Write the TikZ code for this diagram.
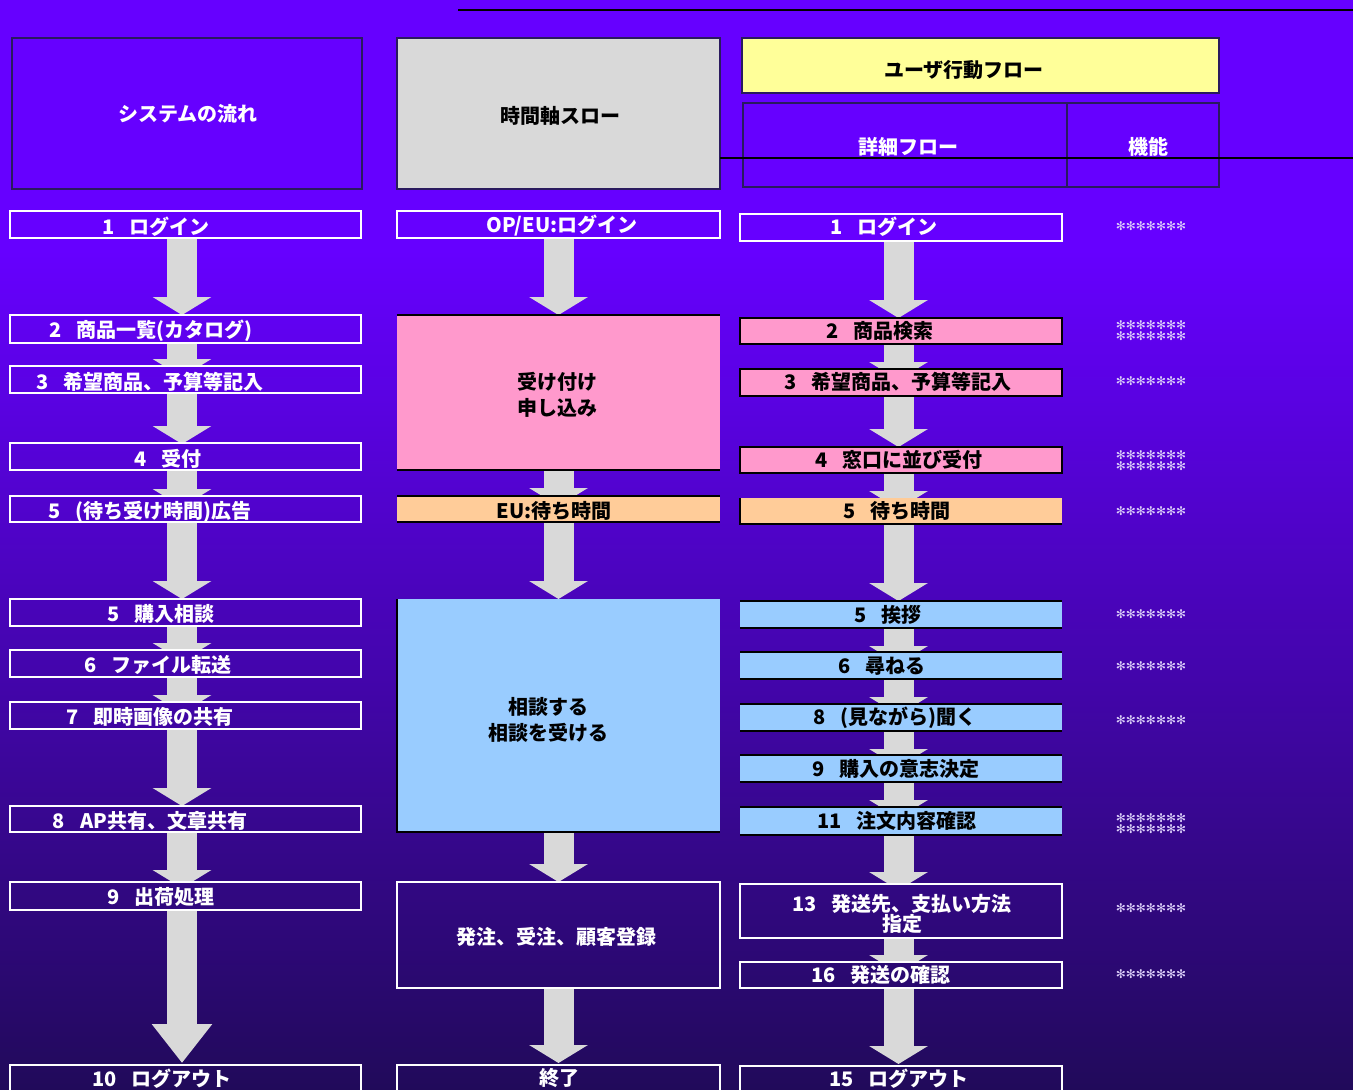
\documentclass[tikz,border=0pt]{standalone}
\usepackage{fontspec}
\setmainfont{Noto Sans CJK JP}
\newfontfamily\dejavu{DejaVu Sans}
\usetikzlibrary{arrows.meta}
\definecolor{bgtop}{HTML}{6600FF}
\definecolor{bgbot}{HTML}{210A5A}
\definecolor{hdrline}{HTML}{2A1A5E}
\definecolor{agray}{HTML}{D9D9D9}
\definecolor{hgray}{HTML}{D9D9D9}
\definecolor{ppink}{HTML}{FF99CC}
\definecolor{porange}{HTML}{FFCC99}
\definecolor{pblue}{HTML}{99CCFF}
\definecolor{pyellow}{HTML}{FFFF99}
\definecolor{astcol}{HTML}{DCD0FA}
\newcommand\jgap{\hspace{0.75em}}
\newcommand\mkbox[6]{\node[#2,minimum width={(#5)-(#3)},minimum height={(#6)-(#4)}] (#1) at ({((#3)+(#5))/2},{((#4)+(#6))/2}) {};}
\newcommand\tbline[1]{\draw[line width=2pt,black] (#1.north west) -- (#1.north east) (#1.south west) -- (#1.south east);}
\newcommand\lbline[1]{\draw[line width=2pt,black] (#1.north west) -- (#1.south west) -- (#1.south east);}
\pgfdeclarelayer{bglayer}
\pgfdeclarelayer{arrlayer}
\pgfsetlayers{bglayer,arrlayer,main}
\begin{document}
\begin{tikzpicture}[x=1pt,y=-1pt,
  bgfill/.style={path picture={\fill[bgtop] (bgA) rectangle (bgE);
      \shade[top color=bgtop,bottom color=bgbot] (bgF) rectangle (bgC);}},
  hdr/.style={draw=hdrline,line width=2.5pt,inner sep=0pt,outer sep=0pt},
  wbox/.style={draw=white,line width=2.5pt,bgfill,inner sep=0pt,outer sep=0pt},
  cbox/.style={inner sep=0pt,outer sep=0pt,fill=#1},
  kbox/.style={inner sep=0pt,outer sep=0pt,fill=#1,draw=black,line width=2pt},
  txt/.style={font=\bfseries\fontsize{20}{26}\selectfont,inner sep=0pt,align=center},
  wtxt/.style={txt,text=white},
  ktxt/.style={txt,text=black},
  ast/.style={font=\dejavu\fontsize{12}{11}\selectfont,text=astcol,inner sep=0pt,align=center},
  barrow/.style={draw=agray,line width=30pt,-{Triangle[width=58pt,length=18pt]}},
  larrow/.style={draw=agray,line width=30pt,-{Triangle[width=58pt,length=39pt]}}
]
\useasboundingbox (0,0) rectangle (1353,1090);
\coordinate (bgA) at (0,0);
\coordinate (bgE) at (1353,250);
\coordinate (bgF) at (0,250);
\coordinate (bgC) at (1353,1090);
\begin{pgfonlayer}{bglayer}
\fill[bgtop] (bgA) rectangle (bgE);
\shade[top color=bgtop,bottom color=bgbot] (bgF) rectangle (bgC);
\end{pgfonlayer}

% top rule and crossing line
\coordinate (r1a) at (458,10); \coordinate (r1b) at (1353,10);
\draw[black,line width=1.5pt] (r1a) -- (r1b);

% headers
\mkbox{hsys}{hdr,fill=bgtop}{12}{38}{362}{189}
\mkbox{htime}{hdr,fill=hgray}{397}{38}{720}{189}
\mkbox{huser}{hdr,fill=pyellow}{742}{38}{1219}{93}
\mkbox{hdet}{hdr}{743}{103}{1067}{187}
\mkbox{hfun}{hdr}{1067}{103}{1219}{187}
\coordinate (r2a) at (720,158); \coordinate (r2b) at (1353,158);
\draw[black,line width=1.5pt] (r2a) -- (r2b);
\node[wtxt] (thsys) at (188,114) {システムの流れ};
\node[ktxt] (thtime) at (560,116) {時間軸スロー};
\node[ktxt] (thuser) at (964,70) {ユーザ行動フロー};
\node[wtxt] (thdet) at (908,147) {詳細フロー};
\node[wtxt] (thfun) at (1148,147) {機能};

% left column
\mkbox{L1}{wbox}{10}{211}{361}{238}
\mkbox{L2}{wbox}{10}{315}{361}{343}
\mkbox{L3}{wbox}{10}{366}{361}{393}
\mkbox{L4}{wbox}{10}{443}{361}{470}
\mkbox{L5}{wbox}{10}{496}{361}{522}
\mkbox{L6}{wbox}{10}{599}{361}{626}
\mkbox{L7}{wbox}{10}{650}{361}{677}
\mkbox{L8}{wbox}{10}{702}{361}{729}
\mkbox{L9}{wbox}{10}{806}{361}{832}
\mkbox{L10}{wbox}{10}{882}{361}{910}
\mkbox{L11}{wbox}{10}{1065}{361}{1098}
\node[wtxt] (tL1) at (156,227) {1\jgap ログイン};
\node[wtxt] (tL2) at (151,331) {2\jgap 商品一覧(カタログ)};
\node[wtxt] (tL3) at (150,382) {3\jgap 希望商品、予算等記入};
\node[wtxt] (tL4) at (168,459) {4\jgap 受付};
\node[wtxt] (tL5) at (150,512) {5\jgap (待ち受け時間)広告};
\node[wtxt] (tL6) at (161,614) {5\jgap 購入相談};
\node[wtxt] (tL7) at (158,665) {6\jgap ファイル転送};
\node[wtxt] (tL8) at (150,717) {7\jgap 即時画像の共有};
\node[wtxt] (tL9) at (150,821) {8\jgap AP共有、文章共有};
\node[wtxt] (tL10) at (161,897) {9\jgap 出荷処理};
\node[wtxt] (tL11) at (162,1079) {10\jgap ログアウト};

% middle column
\mkbox{M1}{wbox}{397}{211}{720}{238}
\mkbox{M2}{cbox=ppink}{397}{315}{720}{470}
\tbline{M2}
\mkbox{M3}{cbox=porange}{397}{496}{720}{522}
\tbline{M3}
\mkbox{M4}{cbox=pblue}{397}{599}{720}{832}
\lbline{M4}
\mkbox{M5}{wbox}{397}{882}{720}{988}
\mkbox{M6}{wbox}{397}{1065}{720}{1098}
\node[wtxt] (tM1) at (562,226) {OP/EU:ログイン};
\node[ktxt] (tM2) at (557,395) {受け付け\\申し込み};
\node[ktxt] (tM3) at (554,511) {EU:待ち時間};
\node[ktxt] (tM4) at (548,720) {相談する\\相談を受ける};
\node[wtxt] (tM5) at (556,937) {発注、受注、顧客登録};
\node[wtxt] (tM6) at (559,1078) {終了};

% right column
\mkbox{R1}{wbox}{740}{214}{1062}{241}
\mkbox{R2}{kbox=ppink}{740}{318}{1062}{344}
\mkbox{R3}{kbox=ppink}{740}{369}{1062}{396}
\mkbox{R4}{kbox=ppink}{740}{447}{1062}{473}
\mkbox{R5}{cbox=porange}{740}{498}{1062}{524}
\lbline{R5}
\mkbox{R6}{cbox=pblue}{740}{601}{1062}{628}
\tbline{R6}
\mkbox{R7}{cbox=pblue}{740}{652}{1062}{679}
\tbline{R7}
\mkbox{R8}{cbox=pblue}{740}{704}{1062}{731}
\tbline{R8}
\mkbox{R9}{cbox=pblue}{740}{755}{1062}{782}
\tbline{R9}
\mkbox{R10}{cbox=pblue}{740}{807}{1062}{835}
\tbline{R10}
\mkbox{R11}{wbox}{740}{884}{1062}{938}
\mkbox{R12}{wbox}{740}{962}{1062}{988}
\mkbox{R13}{wbox}{740}{1066}{1062}{1098}
\node[wtxt] (tR1) at (884,227) {1\jgap ログイン};
\node[ktxt] (tR2) at (880,331) {2\jgap 商品検索};
\node[ktxt] (tR3) at (898,382) {3\jgap 希望商品、予算等記入};
\node[ktxt] (tR4) at (899,460) {4\jgap 窓口に並び受付};
\node[ktxt] (tR5) at (897,511) {5\jgap 待ち時間};
\node[ktxt] (tR6) at (888,615) {5\jgap 挨拶};
\node[ktxt] (tR7) at (882,666) {6\jgap 尋ねる};
\node[ktxt] (tR8) at (895,718) {8\jgap (見ながら)聞く};
\node[ktxt] (tR9) at (896,769) {9\jgap 購入の意志決定};
\node[ktxt] (tR10) at (897,821) {11\jgap 注文内容確認};
\node[wtxt,font=\bfseries\fontsize{20}{20}\selectfont] (tR11) at (902,914) {13\jgap 発送先、支払い方法\\指定};
\node[wtxt] (tR12) at (881,975) {16\jgap 発送の確認};
\node[wtxt] (tR13) at (899,1079) {15\jgap ログアウト};

% function asterisks
\node[ast] (a1) at (1151,226) {✻✻✻✻✻✻✻};
\node[ast] (a2) at (1151,331) {✻✻✻✻✻✻✻\\✻✻✻✻✻✻✻};
\node[ast] (a3) at (1151,381) {✻✻✻✻✻✻✻};
\node[ast] (a4) at (1151,461) {✻✻✻✻✻✻✻\\✻✻✻✻✻✻✻};
\node[ast] (a5) at (1151,511) {✻✻✻✻✻✻✻};
\node[ast] (a6) at (1151,614) {✻✻✻✻✻✻✻};
\node[ast] (a7) at (1151,666) {✻✻✻✻✻✻✻};
\node[ast] (a8) at (1151,720) {✻✻✻✻✻✻✻};
\node[ast] (a9) at (1151,824) {✻✻✻✻✻✻✻\\✻✻✻✻✻✻✻};
\node[ast] (a10) at (1151,908) {✻✻✻✻✻✻✻};
\node[ast] (a11) at (1151,974) {✻✻✻✻✻✻✻};

% arrows (under boxes)
\begin{pgfonlayer}{arrlayer}
\draw[barrow] ([xshift=-3.5pt]L1.south) -- ([xshift=-3.5pt]L2.north);
\draw[barrow] ([xshift=-3.5pt]L2.south) -- ([xshift=-3.5pt,yshift=-11pt]L3.north);
\draw[barrow] ([xshift=-3.5pt]L3.south) -- ([xshift=-3.5pt,yshift=-1pt]L4.north);
\draw[barrow] ([xshift=-3.5pt]L4.south) -- ([xshift=-3.5pt,yshift=-11pt]L5.north);
\draw[barrow] ([xshift=-3.5pt]L5.south) -- ([xshift=-3.5pt]L6.north);
\draw[barrow] ([xshift=-3.5pt]L6.south) -- ([xshift=-3.5pt,yshift=-11pt]L7.north);
\draw[barrow] ([xshift=-3.5pt]L7.south) -- ([xshift=-3.5pt,yshift=-11pt]L8.north);
\draw[barrow] ([xshift=-3.5pt]L8.south) -- ([xshift=-3.5pt]L9.north);
\draw[barrow] ([xshift=-3.5pt]L9.south) -- ([xshift=-3.5pt,yshift=-6pt]L10.north);
\draw[larrow] ([xshift=-3.5pt]L10.south) -- ([xshift=-3.5pt,yshift=2pt]L11.north);
\draw[barrow] (M1.south) -- (M2.north);
\draw[barrow] (M2.south) -- ([yshift=-10pt]M3.north);
\draw[barrow] (M3.south) -- (M4.north);
\draw[barrow] (M4.south) -- (M5.north);
\draw[barrow] (M5.south) -- ([yshift=2pt]M6.north);
\draw[barrow] ([xshift=-2.5pt]R1.south) -- ([xshift=-2.5pt]R2.north);
\draw[barrow] ([xshift=-2.5pt]R2.south) -- ([xshift=-2.5pt,yshift=-11pt]R3.north);
\draw[barrow] ([xshift=-2.5pt]R3.south) -- ([xshift=-2.5pt]R4.north);
\draw[barrow] ([xshift=-2.5pt]R4.south) -- ([xshift=-2.5pt,yshift=-11pt]R5.north);
\draw[barrow] ([xshift=-2.5pt]R5.south) -- ([xshift=-2.5pt]R6.north);
\draw[barrow] ([xshift=-2.5pt]R6.south) -- ([xshift=-2.5pt,yshift=-12pt]R7.north);
\draw[barrow] ([xshift=-2.5pt]R7.south) -- ([xshift=-2.5pt,yshift=-11pt]R8.north);
\draw[barrow] ([xshift=-2.5pt]R8.south) -- ([xshift=-2.5pt,yshift=-12pt]R9.north);
\draw[barrow] ([xshift=-2.5pt]R9.south) -- ([xshift=-2.5pt,yshift=-11pt]R10.north);
\draw[barrow] ([xshift=-2.5pt]R10.south) -- ([xshift=-2.5pt,yshift=-6pt]R11.north);
\draw[barrow] ([xshift=-2.5pt]R11.south) -- ([xshift=-2.5pt,yshift=-11pt]R12.north);
\draw[barrow] ([xshift=-2.5pt]R12.south) -- ([xshift=-2.5pt,yshift=2pt]R13.north);
\end{pgfonlayer}
\end{tikzpicture}
\end{document}
